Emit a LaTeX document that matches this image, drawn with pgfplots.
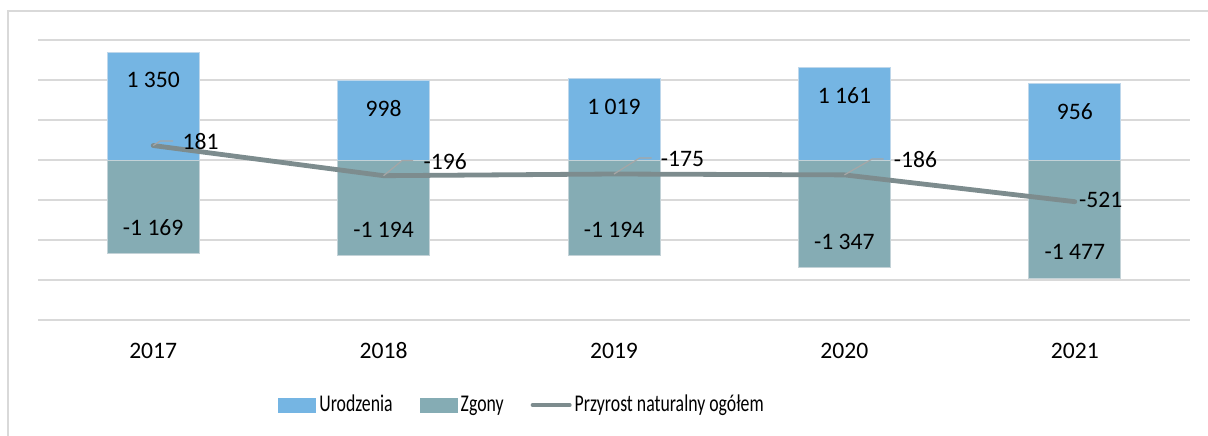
\documentclass[border=0pt]{standalone}
\usepackage{fontspec}
\setmainfont{Carlito}
\newfontfamily\legfont[FakeStretch=0.74]{Carlito}
\usepackage{pgfplots}
\pgfplotsset{compat=1.18}

\definecolor{urodz}{HTML}{75B5E3}
\definecolor{zgony}{HTML}{85ACB4}
\definecolor{przyrost}{HTML}{7D8C8E}
\definecolor{gridc}{HTML}{D9D9D9}

\begin{document}
\begin{tikzpicture}
\useasboundingbox (-19pt,-57.5pt) rectangle (585pt,160pt);
% ramka wykresu
\draw[gridc, line width=0.8pt] (-15pt,-70pt) -- (-15pt,154.5pt) -- (600pt,154.5pt);
\begin{axis}[
  at={(0,0)}, anchor=south west,
  scale only axis,
  width=576pt, height=140pt,
  xmin=-0.5, xmax=4.5,
  ymin=-2000, ymax=1500,
  ytick={-2000,-1500,...,1500},
  yticklabels={},
  xtick={0,1,2,3,4},
  xticklabels={2017,2018,2019,2020,2021},
  xticklabel style={anchor=base, yshift=-19pt},
  ymajorgrids=true,
  grid style={gridc, line width=0.8pt},
  axis line style={draw=none},
  major tick length=0pt,
  font=\fontsize{11.8}{14}\selectfont,
  clip=false,
  legend columns=3,
  legend style={at={(0.2083,-0.3036)}, anchor=west, draw=none, fill=none,
    inner sep=0pt, font=\fontsize{12}{14}\legfont,
    /tikz/every even column/.append style={column sep=12pt},
    nodes={inner sep=1.5pt}},
  legend cell align=left,
]
\addplot[ybar, bar width=46pt, bar shift=0pt, fill=urodz,
  draw={rgb,255:red,190;green,215;blue,235}, line width=0.5pt,
  nodes near coords, point meta=explicit symbolic,
  every node near coord/.append style={anchor=center, yshift=-14pt, text=black},
  legend image code/.code={\fill[urodz] (0pt,-3.5pt) rectangle (18.5pt,3.5pt);}]
  coordinates {(0,1350)[1 350] (1,998)[998] (2,1019)[1 019] (3,1161)[1 161] (4,956)[956]};
\addlegendentry{Urodzenia}
\addplot[ybar, bar width=46pt, bar shift=0pt, fill=zgony,
  draw={rgb,255:red,195;green,210;blue,215}, line width=0.5pt,
  nodes near coords, point meta=explicit symbolic,
  every node near coord/.append style={anchor=center, yshift=13pt, text=black},
  legend image code/.code={\fill[zgony] (0pt,-3.5pt) rectangle (18.5pt,3.5pt);}]
  coordinates {(0,-1169)[-1 169] (1,-1194)[-1 194] (2,-1194)[-1 194] (3,-1347)[-1 347] (4,-1477)[-1 477]};
\addlegendentry{Zgony}
\addplot[przyrost, line width=2.4pt, line cap=round, line join=round, mark=none,
  legend image code/.code={\draw[przyrost, line width=2pt, line cap=round] (0pt,0pt) -- (18.5pt,0pt);}]
  coordinates {(0,181) (1,-196) (2,-175) (3,-186) (4,-521)};
\addlegendentry{Przyrost naturalny ogółem}
% linie odniesienia etykiet
\draw[gray!70, line width=0.6pt] (axis cs:0,181) -- (axis cs:0.03,237) -- (axis cs:0.087,237);
\draw[gray!70, line width=0.6pt] (axis cs:1,-196) -- (axis cs:1.081,-5) -- (axis cs:1.128,-5);
\draw[gray!70, line width=0.6pt] (axis cs:2,-175) -- (axis cs:2.111,25) -- (axis cs:2.163,25);
\draw[gray!70, line width=0.6pt] (axis cs:3,-186) -- (axis cs:3.12,12) -- (axis cs:3.17,12);
% etykiety przyrostu
\node[anchor=west, inner sep=0pt] at (axis cs:0.126,237) {181};
\node[anchor=west, inner sep=0pt] at (axis cs:1.172,-25) {-196};
\node[anchor=west, inner sep=0pt] at (axis cs:2.202,12) {-175};
\node[anchor=west, inner sep=0pt] at (axis cs:3.213,12) {-186};
\node[anchor=west, inner sep=0pt] at (axis cs:4.017,-500) {-521};
\end{axis}
\end{tikzpicture}
\end{document}
